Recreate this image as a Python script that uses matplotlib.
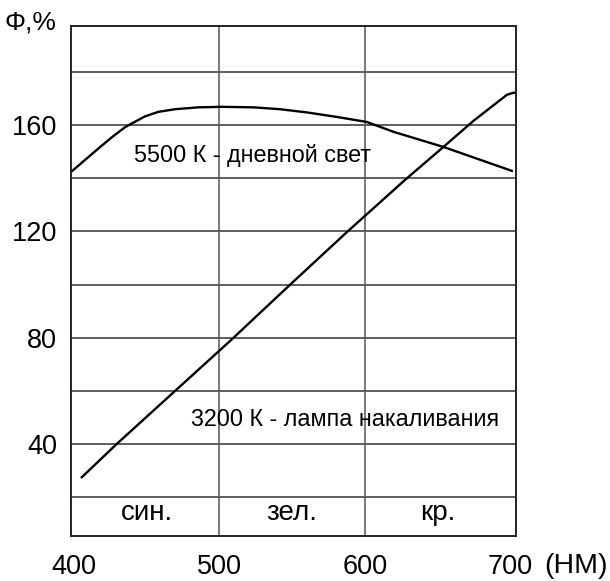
import matplotlib
matplotlib.use('Agg')
import matplotlib.pyplot as plt

plt.rcParams['font.family'] = ['Liberation Sans', 'DejaVu Sans']

# 5500 K - daylight
day_x = [398.9, 407.6, 416.8, 426.0, 435.1, 439.7, 448.9, 458.0, 469.5, 485.6,
         501.6, 523.4, 541.7, 560.1, 580.7, 601.4, 619.7, 654.1, 701.1]
day_y = [142.8, 146.9, 151.2, 155.4, 159.2, 160.6, 163.3, 165.0, 166.0, 166.7,
         166.9, 166.7, 166.0, 164.8, 163.1, 161.2, 157.5, 151.8, 142.8]

# 3200 K - incandescent lamp
lamp_x = [405.4, 429.4, 507.4, 550.7, 587.8, 627.7, 654.1, 674.7, 697.7, 702.2, 703.4]
lamp_y = [27.5, 40.0, 78.8, 101.0, 119.8, 139.4, 151.8, 161.6, 171.4, 172.2, 172.2]

yticks = [40, 80, 120, 160]
ygrid = [20, 40, 60, 80, 100, 120, 140, 160, 180]
xticks = [400, 500, 600, 700]
xgrid = [500, 600]
bands = ['син.', 'зел.', 'кр.']
band_centers = [450, 550, 650]

fig = plt.figure(figsize=(6.10, 5.81), dpi=100)
ax = fig.add_axes([0.1164, 0.0775, 0.7295, 0.8777])

for g in ygrid:
    ax.axhline(g, color='#333333', lw=1.1, zorder=1)
for g in xgrid:
    ax.axvline(g, color='#555555', lw=1.1, zorder=1)

ax.plot(day_x, day_y, color='black', lw=1.7, zorder=3)
ax.plot(lamp_x, lamp_y, color='black', lw=1.7, zorder=3)

ax.set_xlim(398, 704)
ax.set_ylim(5.4, 197.3)

ax.set_xticks(xticks)
ax.set_xticklabels([str(t) for t in xticks])
ax.set_yticks(yticks)
ax.set_yticklabels([str(t) for t in yticks])
ax.tick_params(length=0, labelsize=19.5)
ax.tick_params(axis='x', pad=13)
ax.tick_params(axis='y', pad=10)

for s in ax.spines.values():
    s.set_color('#222222')
    s.set_linewidth(1.4)

ax.text(441.3, 148.7, '5500 К - дневной свет', fontsize=16.8,
        va='center', ha='left', zorder=2)
ax.text(480.5, 49.4, '3200 К - лампа накаливания', fontsize=16.8,
        va='center', ha='left', zorder=2)

for lab, c in zip(bands, band_centers):
    ax.text(c, 14, lab, fontsize=20, ha='center', va='center')

fig.text(0.893, 0.025, '(НМ)', fontsize=20.5, ha='left', va='center')
fig.text(0.008, 0.962, 'Φ,%', fontsize=19, ha='left', va='center')

fig.savefig('out.png', dpi=100)
